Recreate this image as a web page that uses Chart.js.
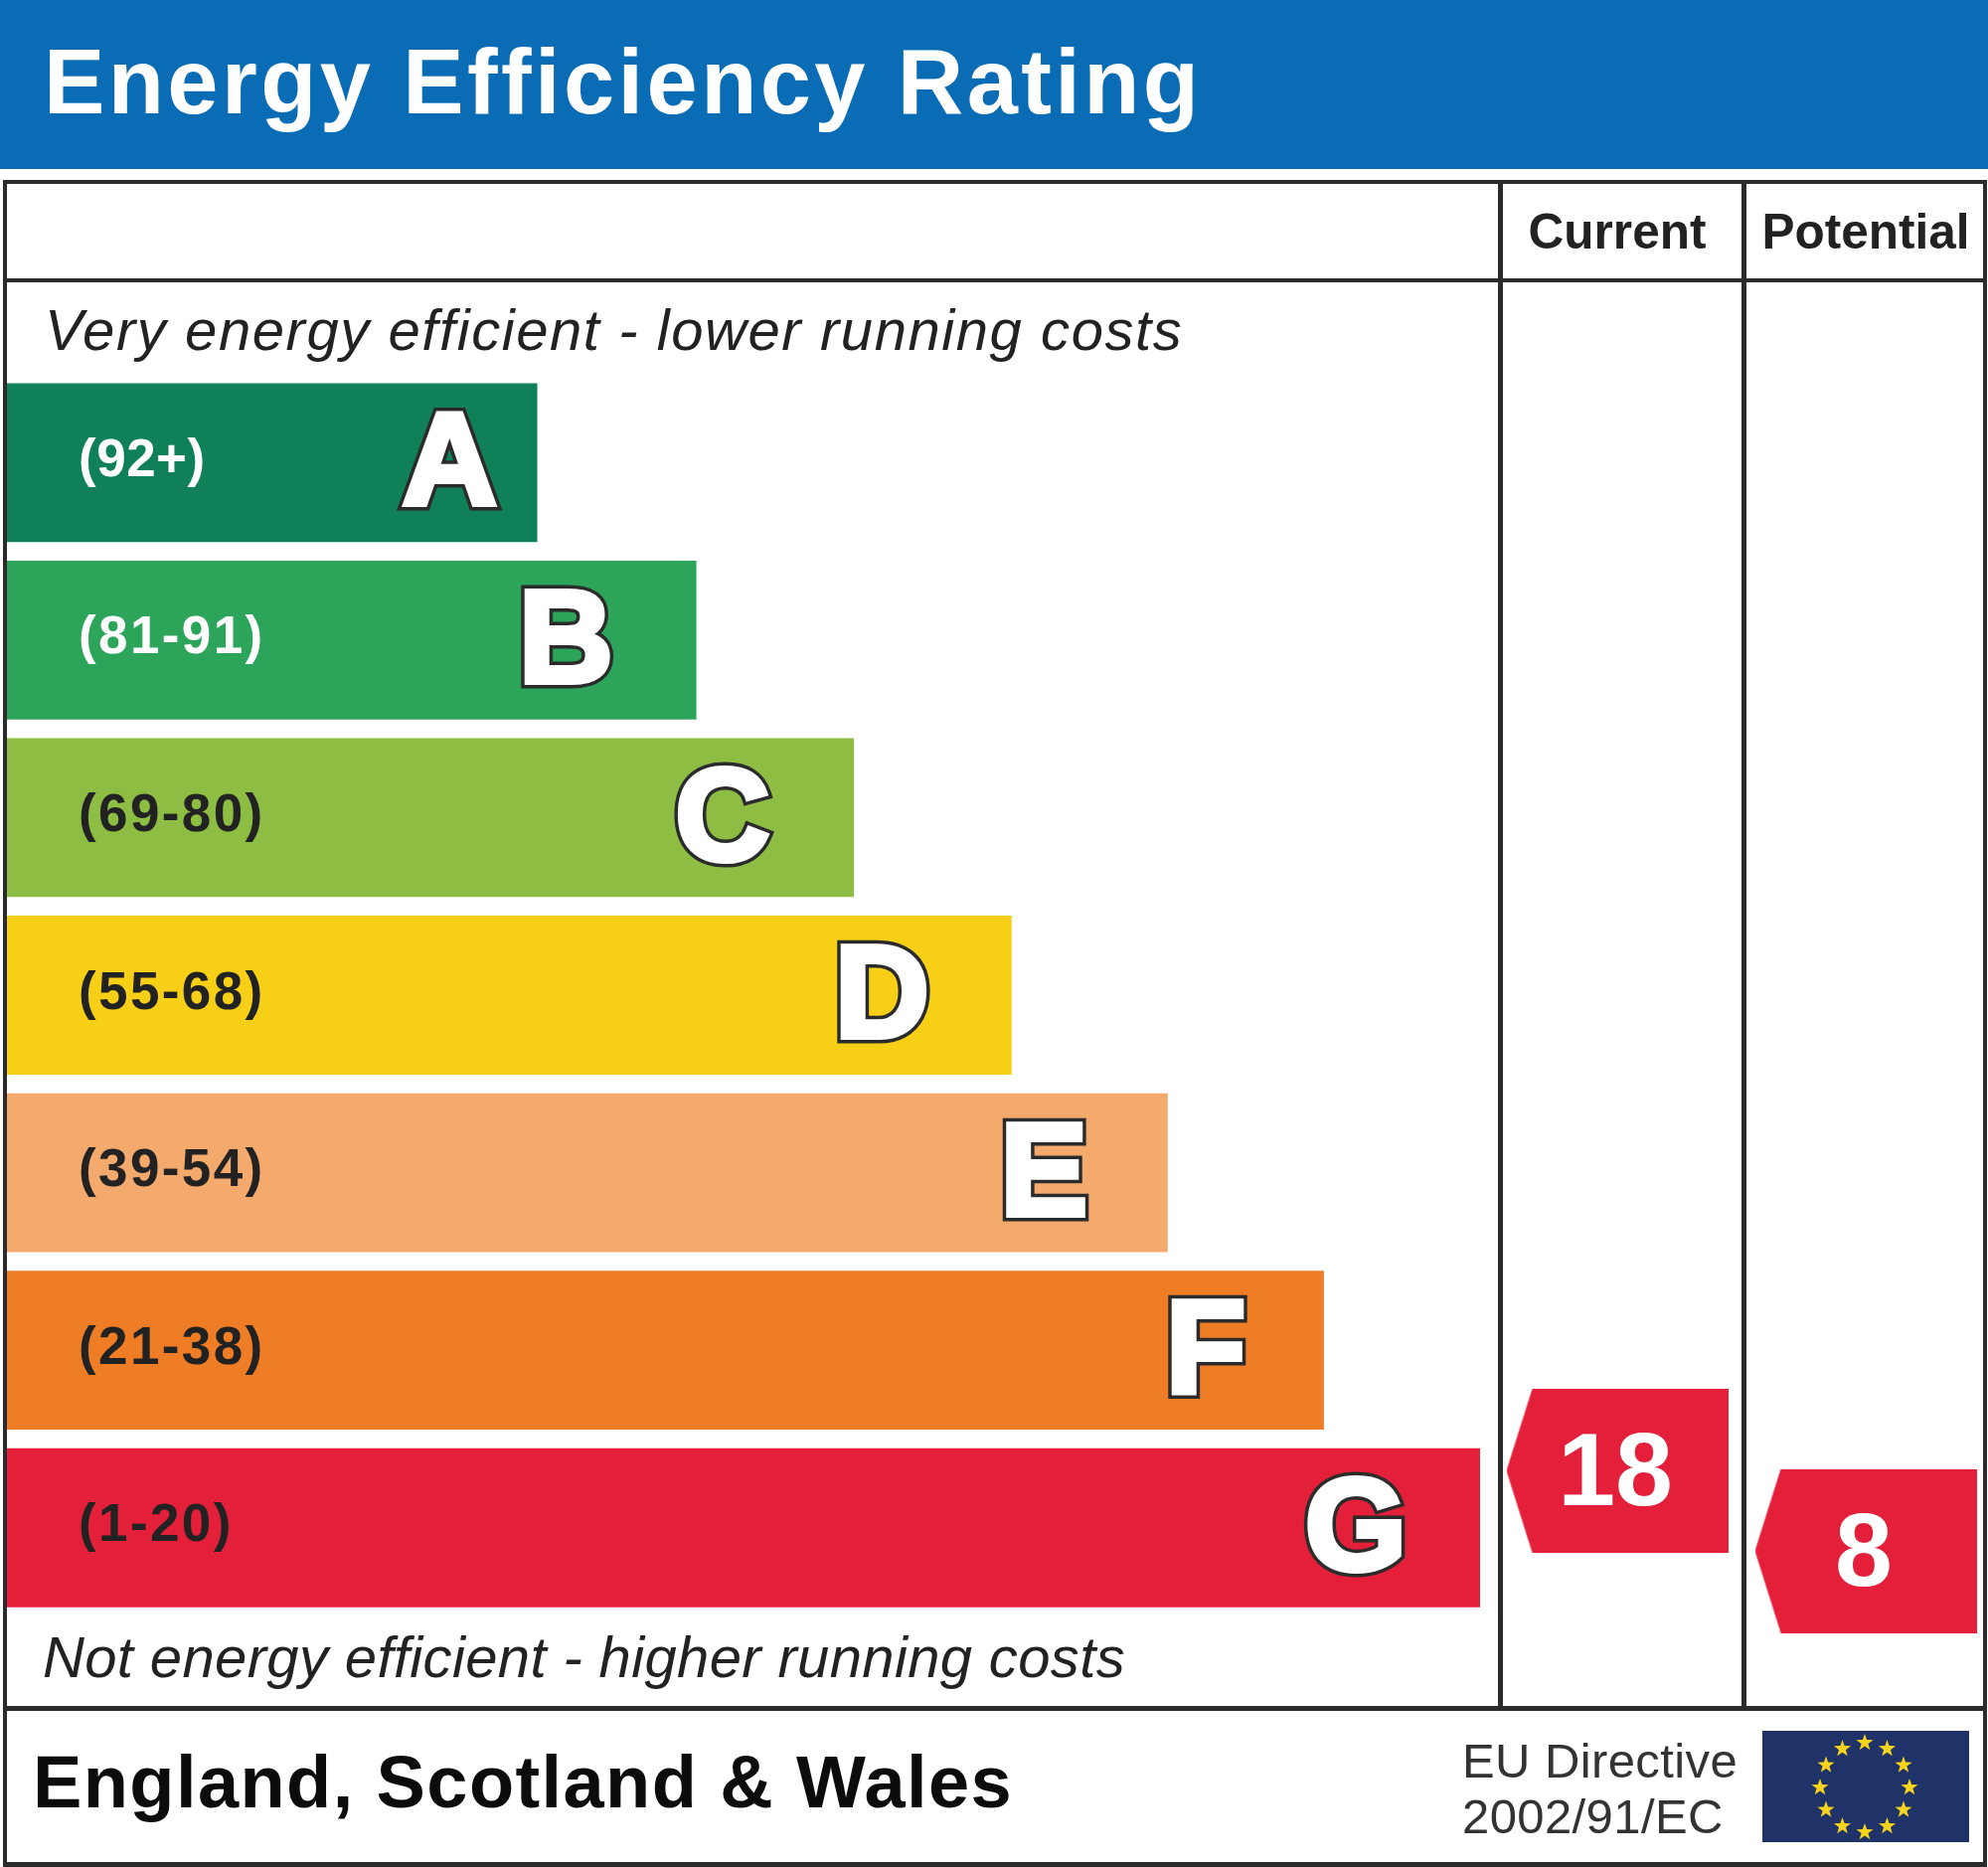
<!DOCTYPE html>
<html>
<head>
<meta charset="utf-8">
<title>Energy Efficiency Rating</title>
<script src="https://cdn.jsdelivr.net/npm/chart.js@4"></script>
<style>
  html, body { margin: 0; padding: 0; background: #fff; }
  body { position: relative; width: 2000px; height: 1878px; overflow: hidden; font-family: "Liberation Sans", Arial, sans-serif; }
  .abs { position: absolute; white-space: nowrap; }
  .line { position: absolute; background: #2b2b2e; }
  canvas { position: absolute; }
  #header { left: 0; top: 0; width: 2000px; height: 170px; background: #0a6cb4; }
  #title { left: 44px; top: 29px; font-size: 92px; line-height: 106px; font-weight: bold; color: #fff; letter-spacing: 3.4px; }
  .note { font-style: italic; font-size: 58px; line-height: 66px; color: #222; }
  #nation { left: 33px; top: 1752px; font-size: 74px; line-height: 82px; font-weight: bold; color: #0c0c0c; letter-spacing: 1.4px; }
  .eu { left: 1471px; font-size: 49px; line-height: 56px; color: #333; letter-spacing: 0.4px; }
</style>
</head>
<body>
<div class="abs" id="header"></div>
<div class="abs" id="title">Energy Efficiency Rating</div>

<div class="line" style="left:3px;top:181px;width:1994px;height:4px"></div>
<div class="line" style="left:3px;top:181px;width:4px;height:1697px"></div>
<div class="line" style="left:1995px;top:181px;width:4px;height:1697px"></div>
<div class="line" style="left:3px;top:280px;width:1994px;height:4px"></div>
<div class="line" style="left:1507px;top:181px;width:5px;height:1537px"></div>
<div class="line" style="left:1752px;top:181px;width:5px;height:1537px"></div>
<div class="line" style="left:3px;top:1716px;width:1994px;height:5px"></div>
<div class="line" style="left:3px;top:1873px;width:1994px;height:5px"></div>

<div class="abs note" style="left:45px;top:299px;letter-spacing:1.57px">Very energy efficient - lower running costs</div>
<div class="abs note" style="left:43px;top:1634px;letter-spacing:0.36px">Not energy efficient - higher running costs</div>
<div class="abs" id="nation">England, Scotland &amp; Wales</div>
<div class="abs eu" style="top:1743px">EU Directive</div>
<div class="abs eu" style="top:1799px">2002/91/EC</div>

<canvas id="bands" width="1500" height="1700" style="left:0;top:0"></canvas>
<canvas id="ratings" width="510" height="1535" style="left:1497px;top:183px"></canvas>
<canvas id="flag" width="208" height="112" style="left:1773px;top:1741px"></canvas>

<script>
// band data, top to bottom
const bandLetters = ["A", "B", "C", "D", "E", "F", "G"];
const bandRanges = ["(92+)", "(81-91)", "(69-80)", "(55-68)", "(39-54)", "(21-38)", "(1-20)"];
// bar length as % of the longest band
const bandLengths = [36, 46.8, 57.5, 68.2, 78.8, 89.4, 100];
const bandColours = ["#0f8058", "#2ca55b", "#8dbe43", "#f6cf16", "#f4a96d", "#ee7d26", "#e31f3a"];
const rangeColours = ["#fff", "#fff", "#222", "#222", "#222", "#222", "#222"];

const ratingColumns = ["Current", "Potential"];
const ratingValues = [18, 8];
const ratingColour = "#e31f3a";

const FONT = '"Liberation Sans", Arial, sans-serif';

// how far each letter stands in from the end of its bar
const letterInsets = [41, 84, 85, 83, 81, 79, 74];

// labels inside the bars
const bandText = {
  id: "bandText",
  afterDatasetsDraw(chart) {
    const ctx = chart.ctx;
    const bars = chart.getDatasetMeta(0).data;
    ctx.save();
    ctx.textBaseline = "middle";
    bars.forEach(function (bar, i) {
      ctx.textAlign = "left";
      ctx.letterSpacing = i === 0 ? "0.5px" : "2.4px";
      ctx.font = "bold 53px " + FONT;
      ctx.fillStyle = rangeColours[i];
      ctx.fillText(bandRanges[i], 79, bar.y - 1);

      // thick dark stroke, white stroke over it, so the letter gets fat with a thin outline
      const lx = bar.x - letterInsets[i];
      const ly = bar.y + 6;
      ctx.textAlign = "right";
      ctx.letterSpacing = "0px";
      ctx.font = "bold 131px " + FONT;
      ctx.lineJoin = "miter";
      ctx.miterLimit = 3;
      ctx.lineWidth = 13;
      ctx.strokeStyle = "#2b2b2b";
      ctx.strokeText(bandLetters[i], lx, ly);
      ctx.lineWidth = 6;
      ctx.strokeStyle = "#fff";
      ctx.strokeText(bandLetters[i], lx, ly);
      ctx.fillStyle = "#fff";
      ctx.fillText(bandLetters[i], lx, ly);
    });
    ctx.restore();
  },
};

new Chart(document.getElementById("bands"), {
  type: "bar",
  data: {
    labels: bandLetters,
    datasets: [{
      data: bandLengths,
      backgroundColor: bandColours,
      barPercentage: 0.895,
      categoryPercentage: 1,
    }],
  },
  options: {
    indexAxis: "y",
    responsive: false,
    animation: false,
    devicePixelRatio: 1,
    layout: { padding: { left: 7, right: 11, top: 376, bottom: 74 } },
    plugins: { legend: { display: false }, tooltip: { enabled: false } },
    scales: {
      x: { display: false, min: 0, max: 100 },
      y: { display: false },
    },
  },
  plugins: [bandText],
});

// arrow shaped marker for the rating columns
function makePointer() {
  const c = document.createElement("canvas");
  c.width = 223;
  c.height = 165;
  const g = c.getContext("2d");
  g.fillStyle = ratingColour;
  g.beginPath();
  g.moveTo(0, 82.5);
  g.lineTo(26, 0);
  g.lineTo(223, 0);
  g.lineTo(223, 165);
  g.lineTo(26, 165);
  g.closePath();
  g.fill();
  return c;
}

const ratingText = {
  id: "ratingText",
  afterDatasetsDraw(chart) {
    const ctx = chart.ctx;
    ctx.save();
    ctx.font = "bold 104px " + FONT;
    ctx.fillStyle = "#fff";
    ctx.textAlign = "center";
    ctx.textBaseline = "middle";
    chart.getDatasetMeta(0).data.forEach(function (pt, i) {
      ctx.fillText(ratingValues[i], pt.x - 2, pt.y + 6);
    });
    ctx.restore();
  },
};

new Chart(document.getElementById("ratings"), {
  type: "scatter",
  data: {
    labels: ratingColumns,
    datasets: [{
      data: ratingColumns.map(function (name, i) { return { x: name, y: ratingValues[i] }; }),
      pointStyle: makePointer(),
      showLine: false,
    }],
  },
  options: {
    responsive: false,
    animation: false,
    devicePixelRatio: 1,
    plugins: { legend: { display: false }, tooltip: { enabled: false } },
    scales: {
      x: {
        type: "category",
        position: "top",
        offset: true,
        grid: { display: false },
        border: { display: false },
        afterFit(scale) { scale.height = 99; },
        ticks: {
          color: "#222",
          padding: 8,
          maxRotation: 0,
          font: { family: FONT, size: 49.5, weight: "bold" },
        },
      },
      y: { display: false, min: -10.95, max: 166.35 },
    },
  },
  plugins: [ratingText],
});

// EU flag
(function () {
  const ctx = document.getElementById("flag").getContext("2d");
  ctx.fillStyle = "#1f3368";
  ctx.fillRect(0, 0, 208, 112);
  ctx.fillStyle = "#f6d31c";
  for (let i = 0; i < 12; i++) {
    const a = i * Math.PI / 6;
    const cx = 103 + 45 * Math.sin(a);
    const cy = 57 - 45 * Math.cos(a);
    ctx.beginPath();
    for (let k = 0; k < 10; k++) {
      const r = k % 2 ? 3.6 : 9;
      const t = k * Math.PI / 5;
      ctx.lineTo(cx + r * Math.sin(t), cy - r * Math.cos(t));
    }
    ctx.closePath();
    ctx.fill();
  }
})();
</script>
</body>
</html>
